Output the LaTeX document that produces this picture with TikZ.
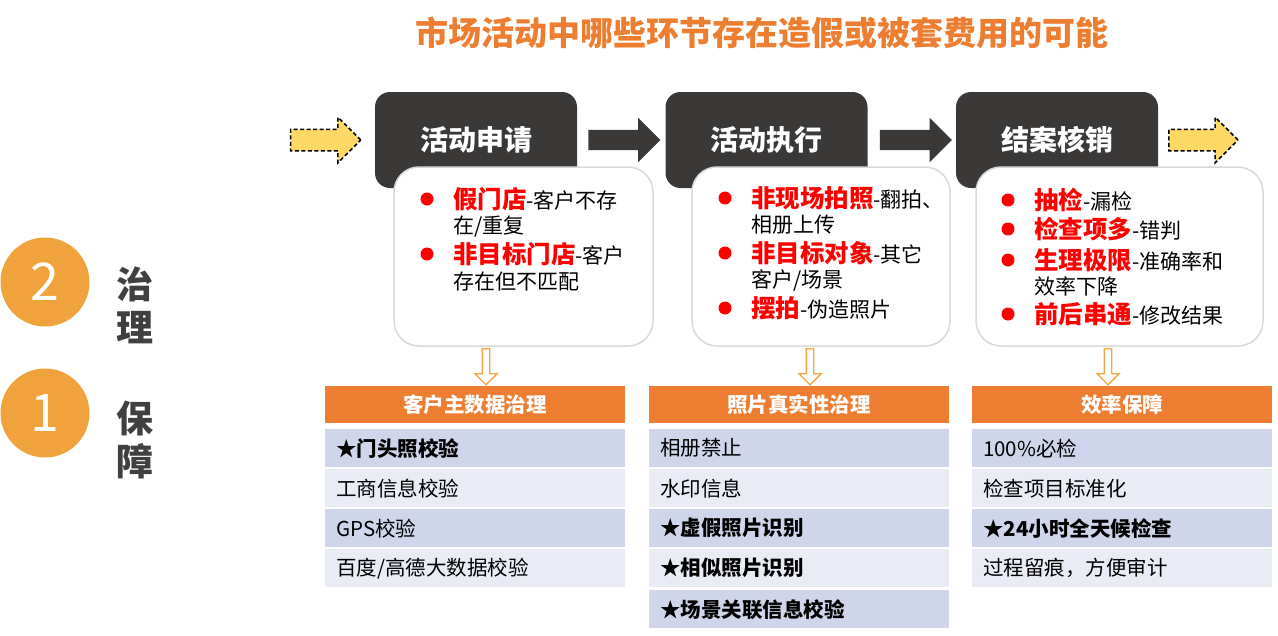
\documentclass[tikz,border=0pt]{standalone}
\usepackage{fontspec}
\setmainfont{Noto Sans CJK SC}
\usepackage{xcolor}
\usetikzlibrary{calc,positioning,shapes.arrows}
\definecolor{stagegray}{RGB}{59,56,56}
\definecolor{orange1}{RGB}{237,125,49}
\definecolor{orange2}{RGB}{244,164,64}
\definecolor{orange3}{RGB}{240,162,60}
\definecolor{yellow1}{RGB}{255,217,102}
\definecolor{red1}{RGB}{255,0,0}
\definecolor{rowdark}{RGB}{207,213,234}
\definecolor{rowlight}{RGB}{233,235,245}
\definecolor{darkgray1}{RGB}{64,64,64}
\definecolor{boxborder}{RGB}{217,217,217}
\newcommand{\redkey}[1]{{\fontsize{24.5}{26}\selectfont\bfseries\color{red1}#1}}
\tikzset{
  stage/.style={fill=stagegray, rounded corners=15, minimum width=202, minimum height=96,
    text=white, font=\fontsize{28}{32}\selectfont\bfseries},
  descbox/.style={fill=white, draw=boxborder, line width=1.5, rounded corners=25, minimum height=179},
  flowarrow/.style={single arrow, single arrow head extend=12, inner sep=0, inner ysep=10, minimum height=72},
  darrow/.style={flowarrow, fill=stagegray},
  yarrow/.style={flowarrow, fill=yellow1, draw=black, line width=1.5, dash pattern=on 4pt off 2.5pt},
  downarrow/.style={single arrow, rotate=-90, draw=orange2, line width=1.3, fill=white,
    inner sep=0, inner ysep=3, single arrow head extend=7.5, minimum height=36},
  dot/.style={circle, fill=red1, inner sep=0, minimum size=13},
  txtline/.style={anchor=west, inner sep=0, font=\fontsize{21}{24}\selectfont},
  hdr/.style={anchor=north west, fill=orange1, minimum width=300, minimum height=37,
    text=white, font=\fontsize{20.5}{24}\selectfont\bfseries},
  rowdk/.style={anchor=north west, fill=rowdark, text width=278, inner xsep=11, minimum height=38,
    align=left, font=\fontsize{20.5}{24}\selectfont},
  rowlt/.style={rowdk, fill=rowlight},
  numdot/.style={circle, fill=orange3, minimum size=89, inner sep=0, text=white,
    font=\fontsize{52}{52}\selectfont},
  side/.style={text=darkgray1, align=center, font=\fontsize{37}{43}\selectfont\bfseries}
}
\begin{document}
\begin{tikzpicture}[x=1pt, y=-1pt]
\useasboundingbox (0,0) rectangle (1278,635);

% TITLE
\node[text=orange1, font=\fontsize{33}{36}\selectfont\bfseries] (title) at (762,33)
  {市场活动中哪些环节存在造假或被套费用的可能};

% LEFT: 2 / 1
\node[numdot] (n2) at (45,282) {2};
\node[side] (s2) at (135,305) {治\\理};
\node[numdot] (n1) at (45,413) {1};
\node[side] (s1) at (135,440) {保\\障};

% STAGES
\node[stage] (apply) at (476,140) {活动申请};
\node[stage] (exec) at (766.5,140) {活动执行};
\node[stage] (close) at (1057,140) {结案核销};

\node[yarrow, minimum height=70, left=13 of apply] (yin) {};
\node[darrow, right=11 of apply] (a1) {};
\node[darrow, right=12 of exec] (a2) {};
\node[yarrow, minimum height=69, right=10 of close] (yout) {};

% DESCRIPTION BOXES
\node[descbox, minimum width=259] (descA) at (523.5,256.5) {};
\node[descbox, minimum width=258] (descB) at (821,256.5) {};
\node[descbox, minimum width=287] (descC) at (1119.5,256.5) {};

% Box A
\node[dot] (dA1) at (427,199) {};
\node[txtline] (tA1) at (453,199) {\redkey{假门店}-客户不存};
\node[txtline] (tA2) at (453,227) {在/重复};
\node[dot] (dA2) at (427,254) {};
\node[txtline] (tA3) at (453,254) {\redkey{非目标门店}-客户};
\node[txtline] (tA4) at (453,282) {存在但不匹配};

% Box B
\node[dot] (dB1) at (725,198) {};
\node[txtline] (tB1) at (751,198) {\redkey{非现场拍照}-翻拍、};
\node[txtline] (tB2) at (751,225) {相册上传};
\node[dot] (dB2) at (725,253) {};
\node[txtline] (tB3) at (751,253) {\redkey{非目标对象}-其它};
\node[txtline] (tB4) at (751,280) {客户/场景};
\node[dot] (dB3) at (725,308) {};
\node[txtline] (tB5) at (751,308) {\redkey{摆拍}-伪造照片};

% Box C
\node[dot] (dC1) at (1008,200) {};
\node[txtline] (tC1) at (1034,200) {\redkey{抽检}-漏检};
\node[dot] (dC2) at (1008,229) {};
\node[txtline] (tC2) at (1034,229) {\redkey{检查项多}-错判};
\node[dot] (dC3) at (1008,260) {};
\node[txtline] (tC3) at (1034,260) {\redkey{生理极限}-准确率和};
\node[txtline] (tC4) at (1034,286) {效率下降};
\node[dot] (dC4) at (1008,314) {};
\node[txtline] (tC5) at (1034,314) {\redkey{前后串通}-修改结果};

% DOWN ARROWS
\node[downarrow] (dnA) at (486,365) {};
\node[downarrow] (dnB) at (810,365) {};
\node[downarrow] (dnC) at (1108,365) {};

% TABLE A
\node[hdr] (hdrA) at (325,386) {客户主数据治理};
\node[rowdk] (rA1) at (325,429) {\textbf{★门头照校验}};
\node[rowlt] (rA2) at (325,469) {工商信息校验};
\node[rowdk] (rA3) at (325,509) {GPS校验};
\node[rowlt] (rA4) at (325,549) {百度/高德大数据校验};

% TABLE B
\node[hdr] (hdrB) at (649,386) {照片真实性治理};
\node[rowdk] (rB1) at (649,429) {相册禁止};
\node[rowlt] (rB2) at (649,469) {水印信息};
\node[rowdk] (rB3) at (649,509) {\textbf{★虚假照片识别}};
\node[rowlt] (rB4) at (649,549) {\textbf{★相似照片识别}};
\node[rowdk] (rB5) at (649,590) {\textbf{★场景关联信息校验}};

% TABLE C
\node[hdr] (hdrC) at (972,386) {效率保障};
\node[rowdk] (rC1) at (972,429) {100\%必检};
\node[rowlt] (rC2) at (972,469) {检查项目标准化};
\node[rowdk] (rC3) at (972,509) {\textbf{★24小时全天候检查}};
\node[rowlt] (rC4) at (972,549) {过程留痕，方便审计};

\end{tikzpicture}
\end{document}
